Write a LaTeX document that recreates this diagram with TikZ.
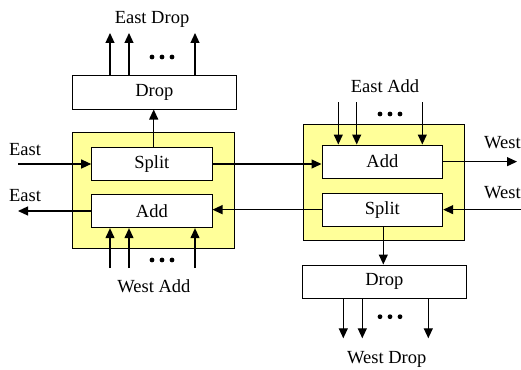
\documentclass[tikz,border=0pt]{standalone}
\usepackage{fontspec}
\setmainfont{Liberation Serif}
\usetikzlibrary{arrows.meta}
\definecolor{paleyellow}{RGB}{255,255,153}
\begin{document}
\begin{tikzpicture}[x=1pt,y=-1pt,
  every node/.style={font=\fontsize{18.5}{22}\selectfont},
  box/.style={draw,line width=1pt,fill=white,minimum height=33.3pt,inner sep=0pt},
  frame/.style={draw,line width=1pt,fill=paleyellow,inner sep=0pt},
  conn/.style={line width=1.2pt,-{Triangle[length=10pt,width=9pt]}},
  lbl/.style={anchor=base,inner sep=0pt},
  dot/.style={fill=black}]
\useasboundingbox (0,0) rectangle (521,369);
% left module
\node[box,minimum width=163.3pt] (dropL) at (154.35,92.35) {Drop};
\node[frame,minimum width=161.6pt,minimum height=116pt] (yelL) at (153.5,190.3) {};
\node[box,minimum width=120.3pt] (splitL) at (151.85,164) {Split};
\node[box,minimum width=120.3pt] (addL) at (151.85,211) {Add};
% right module
\node[frame,minimum width=161.4pt,minimum height=115.7pt] (yelR) at (384,182.15) {};
\node[box,minimum width=120.7pt] (addR) at (382.35,161.65) {Add};
\node[box,minimum width=120.7pt,minimum height=32.7pt] (splitR) at (382.35,209.65) {Split};
\node[box,minimum width=163.3pt] (dropR) at (384.35,281.65) {Drop};
% free ends
\coordinate (eIn) at (18,164);
\coordinate (eOut) at (18,211);
\coordinate (wOut) at (517,161.65);
\coordinate (wIn) at (521,209.65);
\coordinate (ed1) at (110,33);
\coordinate (ed2) at (129,33);
\coordinate (ed3) at (195,33);
\coordinate (wa1) at (110,268);
\coordinate (wa2) at (129,268);
\coordinate (wa3) at (195,268);
\coordinate (ea1) at (338.3,102.3);
\coordinate (ea2) at (356.7,102.3);
\coordinate (ea3) at (422.3,102.3);
\coordinate (wd1) at (343.3,338.3);
\coordinate (wd2) at (362.3,338.3);
\coordinate (wd3) at (428.3,338.3);
% connectors
\draw[conn] (eIn) -- (splitL.west);
\draw[conn] (addL.west) -- (eOut);
\draw[conn] (splitL.east) -- (splitL.east -| addR.west);
\draw[conn] (splitR.west) -- (splitR.west -| addL.east);
\draw[conn] (addR.east) -- (wOut);
\draw[conn] (wIn) -- (splitR.east);
\draw[conn] (splitL.north -| 153.7,0) -- (dropL.south -| 153.7,0);
\draw[conn] (splitR.south -| 383.3,0) -- (dropR.north -| 383.3,0);
\foreach \i in {1,2,3}{
  \draw[conn] (dropL.north -| ed\i) -- (ed\i);
  \draw[conn] (wa\i) -- (addL.south -| wa\i);
  \draw[conn] (ea\i) -- (addR.north -| ea\i);
  \draw[conn] (dropR.south -| wd\i) -- (wd\i);
}
% ellipsis dots
\foreach \cx/\cy in {162/57, 162/260, 390/114, 390/316.7}{
  \foreach \d in {-10,0,10}{
    \fill[dot] (\cx+\d,\cy) circle (2.4pt);
  }
}
% labels
\node[lbl] (tED) at (152,23.5) {East Drop};
\node[lbl] (tE1) at (25,155) {East};
\node[lbl] (tE2) at (25,201.7) {East};
\node[lbl] (tWA) at (154,292.3) {West Add};
\node[lbl] (tEA) at (385,92.3) {East Add};
\node[lbl,anchor=base west] (tW1) at (484,148.3) {West};
\node[lbl,anchor=base west] (tW2) at (484,198.3) {West};
\node[lbl] (tWD) at (386.7,363.3) {West Drop};
\end{tikzpicture}
\end{document}
